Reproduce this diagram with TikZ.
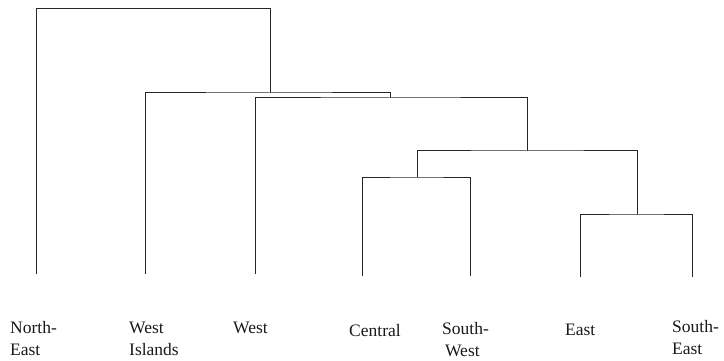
\documentclass[tikz,border=0pt]{standalone}
\usepackage{fontspec}
\setmainfont{Liberation Serif}
\newcommand{\hstrut}{\rule{0pt}{15.4pt}}
\begin{document}
\begin{tikzpicture}[x=1pt,y=-1pt,
  branch/.style={draw=black!85,line width=1pt},
  lbl/.style={anchor=north west,inner sep=0pt,align=left,text=black!90,
    font=\fontsize{17.5}{22}\selectfont}]
\useasboundingbox (0,0) rectangle (724,361);
% leaf ends
\coordinate (ne) at (36,274);
\coordinate (wi) at (145,274);
\coordinate (w)  at (255,274);
\coordinate (c)  at (362,276);
\coordinate (sw) at (470,276);
\coordinate (e)  at (580,277);
\coordinate (se) at (692,277);
% merge points
\coordinate (m1) at (417,177);
\coordinate (m2) at (637,214);
\coordinate (m3) at (527,151);
\coordinate (m4) at (390,98);
\coordinate (m5) at (270,93);
\coordinate (m6) at (153,8.5);
% branches
\draw[branch] (c) |- (m1) -| (sw);
\draw[branch] (e) |- (m2) -| (se);
\draw[branch] (m1) |- (m3) -| (m2);
\draw[branch] (w) |- (m4) -| (m3);
\draw[branch] (wi) |- (m5) -| (m4);
\draw[branch] (ne) |- (m6) -| (m5);
% labels
\node[lbl] (lne) at (10,333-15.4) {\hstrut North-\\\hstrut East};
\node[lbl] (lwi) at (129,333-15.4) {\hstrut West\\\hstrut Islands};
\node[lbl] (lw)  at (233,333-15.4) {\hstrut West};
\node[lbl] (lc)  at (349,336-15.4) {\hstrut Central};
\node[lbl] (lsw) at (442,334-15.4) {\hstrut South-\\\hstrut\,West};
\node[lbl] (le)  at (565,335-15.4) {\hstrut East};
\node[lbl] (lse) at (672,332-15.4) {\hstrut South-\\\hstrut East};
\end{tikzpicture}
\end{document}
